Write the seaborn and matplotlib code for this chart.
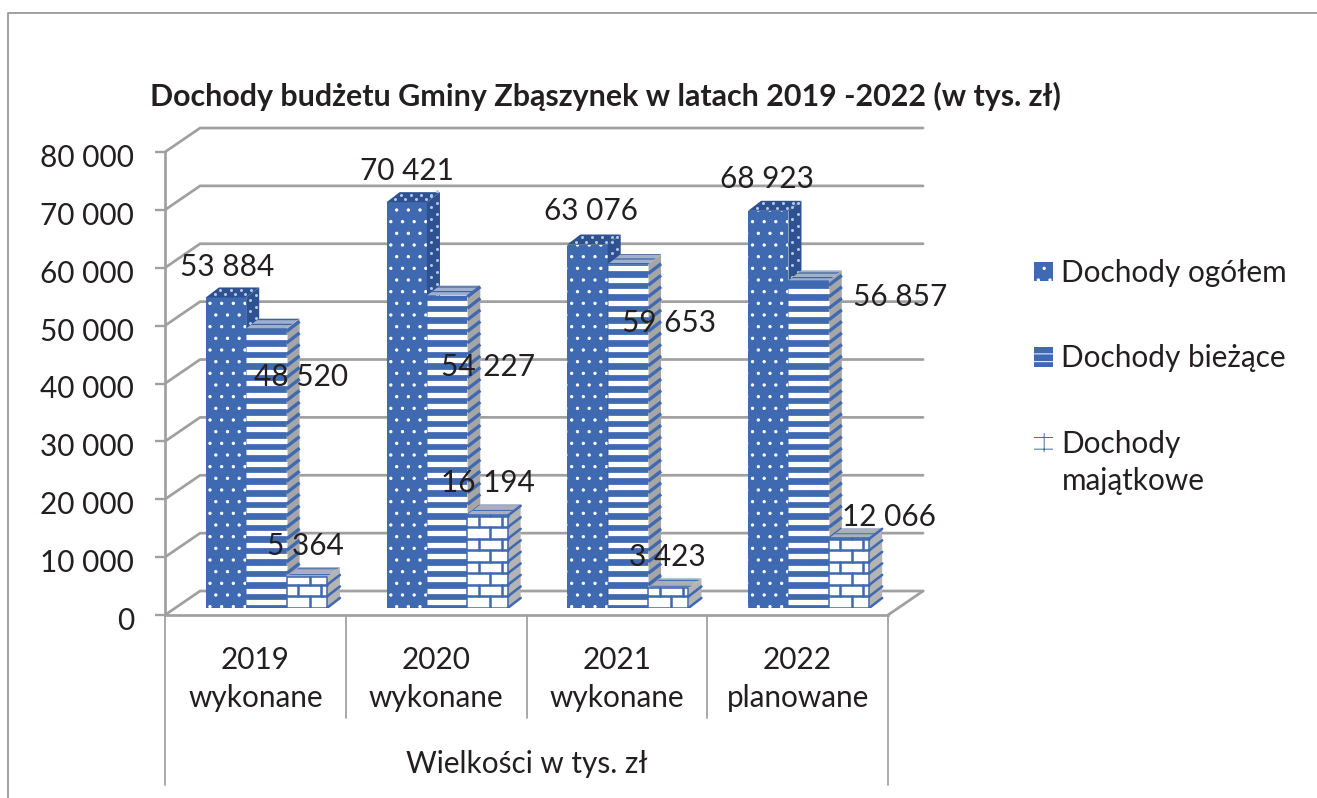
import numpy as np
import pandas as pd
import matplotlib
matplotlib.use("Agg")
import matplotlib.pyplot as plt
import seaborn as sns
from matplotlib.lines import Line2D
from matplotlib.patches import Patch, Polygon
from matplotlib.transforms import ScaledTranslation

# data
categories = ["2019\nwykonane", "2020\nwykonane", "2021\nwykonane", "2022\nplanowane"]
ogolem = [53884, 70421, 63076, 68923]
biezace = [48520, 54227, 59653, 56857]
majatkowe = [5364, 16194, 3423, 12066]
series_names = ["Dochody ogółem", "Dochody bieżące", "Dochody majątkowe"]
y_ticks = [0, 10000, 20000, 30000, 40000, 50000, 60000, 70000, 80000]

title = "Dochody budżetu Gminy Zbąszynek w latach 2019 -2022 (w tys. zł)"
axis_title = "Wielkości w tys. zł"

df = pd.DataFrame({
    "rok": categories * 3,
    "seria": np.repeat(series_names, 4),
    "wartosc": ogolem + biezace + majatkowe,
})

# picture size, hatch tile is one dpi wide so dpi sets the pattern spacing
W, H, DPI = 1317, 798, 140
BLUE = "#3F69B1"
DARK = "#2D5191"
GREY = "#A6A6A6"
LINE = "#A0A0A0"
TEXT = "#231F20"
FS = 15.3

sns.set_theme(style="white")
plt.rcParams["font.family"] = ["Lato", "DejaVu Sans"]
plt.rcParams["hatch.linewidth"] = 0.5
plt.rcParams["text.color"] = TEXT


def px_axes(left, right, top, bottom):
    return fig.add_axes([left / W, 1 - bottom / H, (right - left) / W, (bottom - top) / H])


def fmt(v):
    return f"{v:,}".replace(",", " ")


fig = plt.figure(figsize=(W / DPI, H / DPI), dpi=DPI, facecolor="white")

# picture frame
fig.add_artist(Line2D([7.5 / W, 7.5 / W, 1], [0, 1 - 13 / H, 1 - 13 / H], color=LINE, lw=1.0))

# front plane of the box: axis, ticks and category labels
ax = px_axes(165, 888, 152, 615)
ax.set_xlim(-0.5, 3.5)
ax.set_ylim(0, 80000)
ax.patch.set_visible(False)
for name in ["top", "right"]:
    ax.spines[name].set_visible(False)
for name in ["left", "bottom"]:
    ax.spines[name].set_color(LINE)
    ax.spines[name].set_linewidth(1.4)
ax.set_yticks(y_ticks)
ax.set_yticklabels([fmt(v) for v in y_ticks], fontsize=FS, color=TEXT)
ax.set_xticks(range(4))
ax.set_xticklabels(categories, fontsize=FS, color=TEXT, linespacing=1.45)
ax.tick_params(axis="y", length=5, width=1.2, color=LINE, pad=11, left=True)
ax.tick_params(axis="x", length=0, pad=16)
nudge = ScaledTranslation(0, -3.5 / DPI, fig.dpi_scale_trans)
for lab in ax.get_yticklabels():
    lab.set_transform(lab.get_transform() + nudge)

# back wall and floor
wall_dx, wall_dy = 0.194, 4145
for v in y_ticks:
    ax.plot([-0.5, -0.5 + wall_dx, 3.5 + wall_dx], [v, v + wall_dy, v + wall_dy],
            color=LINE, lw=1.4, clip_on=False, zorder=1)
ax.plot([3.5, 3.5 + wall_dx], [0, wall_dy], color=LINE, lw=1.4, clip_on=False, zorder=1)

# multi level category axis
sep = ax.get_xaxis_transform()
for x in [0.5, 1.5, 2.5]:
    ax.plot([x, x], [0, -0.222], transform=sep, color=LINE, lw=0.9, clip_on=False)
for x in [-0.5, 3.5]:
    ax.plot([x, x], [0, -0.367], transform=sep, color=LINE, lw=0.9, clip_on=False)
ax.text(1.5, -0.322, axis_title, transform=sep, ha="center", va="center", fontsize=FS)

# bars sit a bit inside the box
bx = px_axes(176, 899, 147, 608)
sns.barplot(data=df, x="rok", y="wartosc", hue="seria", hue_order=series_names,
            palette=[BLUE, BLUE, "white"], saturation=1, width=0.67, gap=0,
            legend=False, ax=bx)
bx.set_xlim(-0.5, 3.5)
bx.set_ylim(0, 80000)
bx.axis("off")
bx.patch.set_visible(False)

dx, dy = 0.072, 1740
row = 2000  # one stripe or brick row, in value units

for k, bars in enumerate(bx.containers):
    z = 3 + k
    for bar in bars:
        bar.set_zorder(z)
        bar.set_linewidth(0)
        x0, x1, h = bar.get_x(), bar.get_x() + bar.get_width(), bar.get_height()
        side = [(x1, 0), (x1 + dx, dy), (x1 + dx, h + dy), (x1, h)]
        top = [(x0, h), (x1, h), (x1 + dx, h + dy), (x0 + dx, h + dy)]
        rows = np.arange(0, h, row)

        if k == 0:
            bar.set_hatch("..")
            bar.set_edgecolor("white")
            bx.add_patch(Polygon(side, facecolor=DARK, linewidth=0, zorder=z))
            bx.add_patch(Polygon(top, facecolor=DARK, linewidth=0, zorder=z))
            # dots on the dark faces
            for t in [0.3, 0.75]:
                bx.scatter(x1 + t * dx + 0 * rows, rows + 1000 + t * dy, s=2.4, color="#B9C8E4",
                           linewidths=0, zorder=z + 0.1)
                across = x0 + np.array([0.12, 0.37, 0.62, 0.87]) * bar.get_width() + t * dx
                bx.scatter(across, h + t * dy + 0 * across, s=2.4, color="#B9C8E4",
                           linewidths=0, zorder=z + 0.1)
        elif k == 1:
            bx.add_patch(Polygon(side, facecolor=GREY, linewidth=0, zorder=z))
            bx.add_patch(Polygon(top, facecolor="#9FB0CE", edgecolor=DARK, hatch="-----", linewidth=0, zorder=z))
            white = rows[rows + 1400 < h] + 1000
            bx.hlines(white, x0, x1, color="white", lw=2.7, zorder=z + 0.1)
            for y in rows:
                bx.plot([x1, x1 + dx], [y, y + dy], color=BLUE, lw=1.7, zorder=z + 0.1,
                        solid_capstyle="butt")
        else:
            bx.add_patch(Polygon(side, facecolor="#B4B4B4", linewidth=0, zorder=z))
            bx.add_patch(Polygon(top, facecolor="#A9AFBB", edgecolor=BLUE, hatch="----", linewidth=0, zorder=z))
            bw = bar.get_width() / 1.75
            bx.plot([x0, x0, x1, x1], [0, h, h, 0], color=BLUE, lw=0.8, zorder=z + 0.1)
            for i, y in enumerate(rows):
                bx.plot([x0, x1], [y, y], color=BLUE, lw=1.3, zorder=z + 0.1)
                bx.plot([x1, x1 + dx], [y, y + dy], color=BLUE, lw=1.3, zorder=z + 0.1)
                y2 = min(y + row, h)
                start = x0 + (bw / 2 if i % 2 else bw)
                for xv in np.arange(start, x1, bw):
                    bx.plot([xv, xv], [y, y2], color=BLUE, lw=1.3, zorder=z + 0.1)

# value labels, nudged off the bars in pixels as in the original
offsets = [
    [(1, 30), (35, -49), (-1, 31)],
    [(0, 31), (41, -71), (0, 32)],
    [(3, 34), (41, -59), (-1, 31)],
    [(-1, 32), (92, -17), (40, 21)],
]
for k, bars in enumerate(bx.containers):
    for i, bar in enumerate(bars):
        bx.annotate(fmt(int(bar.get_height())),
                    xy=(bar.get_x() + bar.get_width() / 2, bar.get_height()),
                    xytext=offsets[i][k], textcoords="offset pixels",
                    ha="center", va="center", fontsize=FS, color=TEXT, zorder=20,
                    annotation_clip=False)

# title and legend
fig.text(150 / W, 1 - 96 / H, title, fontsize=15.6, fontweight="bold", va="center", ha="left")

handles = [
    Patch(facecolor=BLUE, edgecolor="white", hatch="..", lw=0),
    Patch(facecolor=BLUE, edgecolor="white", hatch="---", lw=0),
    Patch(facecolor="white", edgecolor=BLUE, hatch="++", lw=0),
]
fig.legend(handles, ["Dochody ogółem", "Dochody bieżące", "Dochody"], frameon=False,
           loc="upper left", bbox_to_anchor=(1034 / W, 1 - 259 / H), fontsize=FS,
           handlelength=0.64, handleheight=0.64, handletextpad=0.28, labelspacing=1.93,
           borderpad=0, borderaxespad=0)
fig.text(1062 / W, 1 - 481 / H, "majątkowe", fontsize=FS, va="center", ha="left")

fig.savefig("out.png", dpi=DPI)
